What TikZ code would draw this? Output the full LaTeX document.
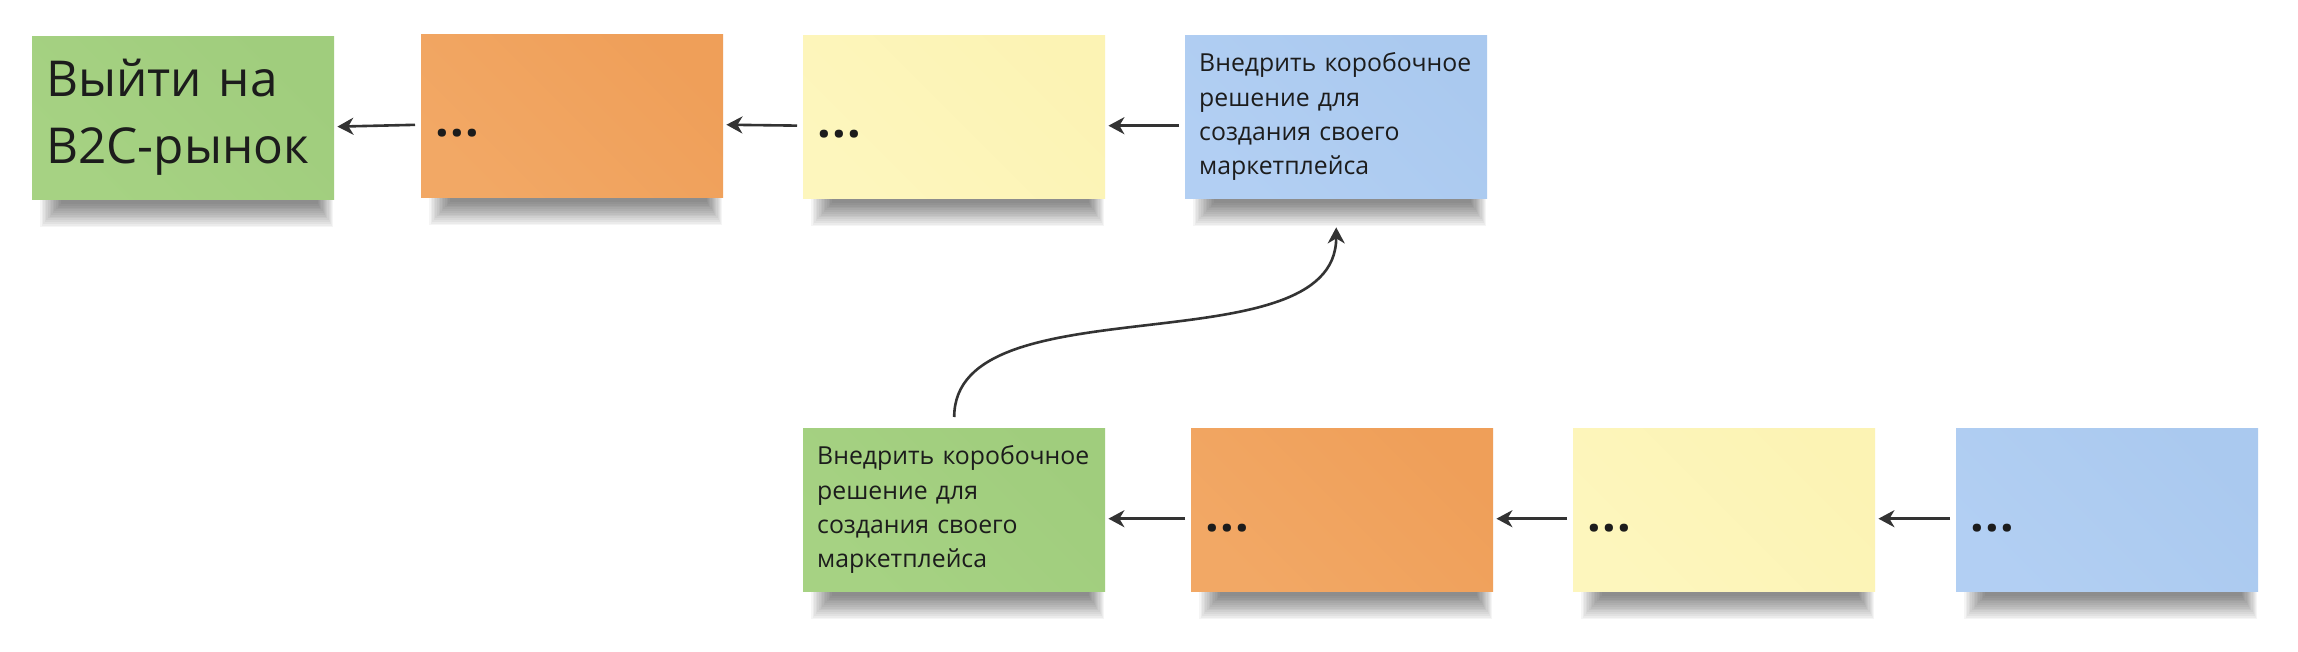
\documentclass[tikz,border=0pt]{standalone}
\usepackage{fontspec}
\setmainfont{Open Sans}
\usetikzlibrary{arrows.meta,calc,backgrounds}
\definecolor{ink}{HTML}{1C1C1C}
\definecolor{arrowc}{HTML}{333333}
\definecolor{gA}{HTML}{A0CD7D}\definecolor{gB}{HTML}{A6D283}
\definecolor{oA}{HTML}{EF9F59}\definecolor{oB}{HTML}{F2A865}
\definecolor{yA}{HTML}{FCF3B4}\definecolor{yB}{HTML}{FDF6BD}
\definecolor{bA}{HTML}{AAC9EF}\definecolor{bB}{HTML}{B2CFF3}
\tikzset{
  sticky/.style={anchor=north west, minimum height=163pt, text width=274pt,
    inner xsep=14pt, inner ysep=0pt, align=left, text=ink,
    font=\fontsize{24.8}{34.4}\selectfont},
  sgreen/.style={sticky, top color=gA, bottom color=gB, shading angle=-45},
  sorange/.style={sticky, top color=oA, bottom color=oB, shading angle=-45},
  syellow/.style={sticky, top color=yA, bottom color=yB, shading angle=-45},
  sblue/.style={sticky, top color=bA, bottom color=bB, shading angle=-45},
  dotstext/.style={anchor=base west, inner sep=0pt, text=ink,
    font=\fontsize{48}{48}\selectfont\bfseries},
  shadowlayer/.style={fill=black, fill opacity=0.04, draw=none},
  arr/.style={draw=arrowc, line width=2.6pt,
    -{Stealth[length=16pt, width=17pt, inset=5pt]},
    shorten <=6pt, shorten >=3pt},
}
\newcommand\stickyshadow[1]{%
  \foreach \k in {0,...,13}{%
    \path[shadowlayer] ($(#1.south west)+(8+1.6*\k,-4)$) rectangle ($(#1.south east)+(-1-1.2*\k,28-1.8*\k)$);%
  }}
\newcommand\tdots{.\kern1.5pt.\kern1.5pt.}
\begin{document}
\begin{tikzpicture}[x=1pt, y=-1pt]
\useasboundingbox (0,0) rectangle (2298,652);
% top row
\node[sgreen, font=\fontsize{49.5}{67}\selectfont] (g1) at (32,36) {Выйти на\\B2C-рынок};
\node[sorange] (o1) at (421,34) {};
\node[syellow] (y1) at (803,35) {};
\node[sblue] (b1) at (1185,35) {Внедрить коробочное\\решение для\\создания своего\\маркетплейса};
% bottom row
\node[sgreen] (g2) at (803,428) {Внедрить коробочное\\решение для\\создания своего\\маркетплейса};
\node[sorange] (o2) at (1191,428) {};
\node[syellow] (y2) at (1573,428) {};
\node[sblue] (b2) at (1956,428) {};
% dots
\node[dotstext] (o1t) at ($(o1.north west)+(14,103)$) {\tdots};
\node[dotstext] (y1t) at ($(y1.north west)+(14,103)$) {\tdots};
\node[dotstext] (o2t) at ($(o2.north west)+(14,103)$) {\tdots};
\node[dotstext] (y2t) at ($(y2.north west)+(14,103)$) {\tdots};
\node[dotstext] (b2t) at ($(b2.north west)+(14,103)$) {\tdots};
% shadows and background
\begin{pgfonlayer}{background}
  \fill[white] (0,0) rectangle (2298,652);
  \stickyshadow{g1}\stickyshadow{o1}\stickyshadow{y1}\stickyshadow{b1}
  \stickyshadow{g2}\stickyshadow{o2}\stickyshadow{y2}\stickyshadow{b2}
\end{pgfonlayer}
% connectors
\draw[arr] ([yshift=-9pt]o1.west) -- ([yshift=-9pt]g1.east);
\draw[arr] ([yshift=-9pt]y1.west) -- ([yshift=-9pt]o1.east);
\draw[arr] ([yshift=-9pt]b1.west) -- ([yshift=-9pt]y1.east);
\draw[arr] ([yshift=-9pt]o2.west) -- ([yshift=-9pt]g2.east);
\draw[arr] ([yshift=-9pt]y2.west) -- ([yshift=-9pt]o2.east);
\draw[arr] ([yshift=-9pt]b2.west) -- ([yshift=-9pt]y2.east);
\draw[arr, shorten <=11pt, shorten >=29pt] (g2.north) .. controls +(0,-148) and +(0,171) .. (b1.south);
\end{tikzpicture}
\end{document}
